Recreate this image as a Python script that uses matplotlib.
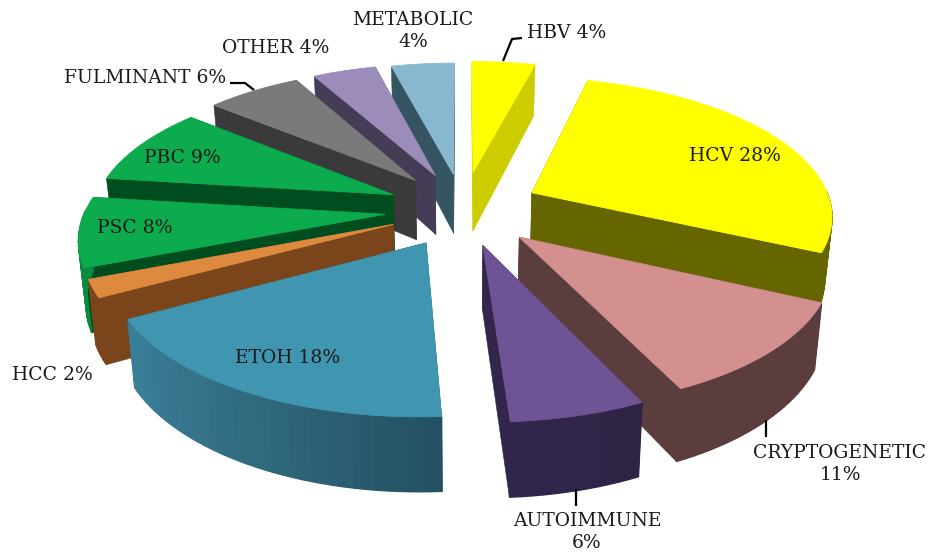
import numpy as np
import matplotlib
matplotlib.use("Agg")
import matplotlib.pyplot as plt
from matplotlib.patches import Polygon

# ---- data -------------------------------------------------------------
names = ["HBV", "HCV", "CRYPTOGENETIC", "AUTOIMMUNE", "ETOH", "HCC",
         "PSC", "PBC", "FULMINANT", "OTHER", "METABOLIC"]
values = [4, 28, 11, 6, 18, 2, 8, 9, 6, 4, 4]

# ---- style ------------------------------------------------------------
top_colors = ["#FFFF00", "#FFFF00", "#D48F8F", "#6E5494", "#4096B0", "#DE8A3E",
              "#0CAB4E", "#0CAB4E", "#7A7A7A", "#9C8CBA", "#88B8CF"]
wall_left = ["#CCCC00", "#666600", "#5C3D3D", "#33264D", "#3A7F98", "#7A451A",
             "#0A8C40", "#004D1F", "#3A3A3A", "#453D55", "#365562"]
wall_right = ["#CCCC00", "#666600", "#5C3D3D", "#2E2344", "#235060", "#7A451A",
              "#0A8C40", "#004D1F", "#3A3A3A", "#453D55", "#365562"]
side_colors = ["#CCCC00", "#666600", "#5C3D3D", "#33264D", "#235060", "#7A451A",
               "#004D1F", "#004D1F", "#3A3A3A", "#453D55", "#365562"]
explode = [75, 75, 76, 88, 82, 78, 75, 75, 75, 72, 70]
nudge = [(-1, 0), (0, 2), (-1, 7), (-5, 0), (2, 4), (0, 4),
         (-5, 5), (-4, 3), (-3, 1), (-4, 0), (-3, 0)]
label_pos = {"HBV": (567, 33), "HCV": (735, 156), "CRYPTOGENETIC": (840, 464),
             "AUTOIMMUNE": (587, 532), "ETOH": (288, 358), "HCC": (52, 375),
             "PSC": (135, 228), "PBC": (182, 158), "FULMINANT": (145, 78),
             "OTHER": (276, 48), "METABOLIC": (413, 31)}
two_line = {"METABOLIC", "CRYPTOGENETIC", "AUTOIMMUNE"}
leaders = [[(503, 61), (512, 39), (522, 38)],
           [(230, 83), (245, 83), (254, 90)],
           [(766, 420), (766, 437)],
           [(576, 489), (576, 506)]]

CX, CY, R, K, D, H, TAPER = 465, 205, 300, 0.455, 2000, 61, 0.02


def mix(c1, c2, t):
    a = np.array(matplotlib.colors.to_rgb(c1))
    b = np.array(matplotlib.colors.to_rgb(c2))
    return tuple(a + (b - a) * t)


fig = plt.figure(figsize=(9.3, 5.55), dpi=100)
ax = fig.add_axes([0, 0, 1, 1])
ax.set_xlim(0, 930)
ax.set_ylim(555, 0)
ax.axis("off")

edges = np.cumsum([0] + values) / sum(values) * 2 * np.pi
order = sorted((-np.cos((edges[i] + edges[i + 1]) / 2), i) for i in range(len(values)))

zorder = 1
for _, i in order:
    dx, dy = nudge[i]

    def project(X, Y, z=0.0):
        s = D / (D - Y)
        return CX + dx + X * s * (1 - TAPER * z), CY + dy + K * Y * s + H * s * z

    a0, a1 = edges[i], edges[i + 1]
    mid = (a0 + a1) / 2
    ox, oy = explode[i] * np.sin(mid), -explode[i] * np.cos(mid)
    aa = np.linspace(a0, a1, max(int((a1 - a0) / 0.03), 4) + 1)
    xs = ox + R * np.sin(aa)
    ys = oy - R * np.cos(aa)

    faces = []
    for k in (0, -1):
        quad = [project(ox, oy), project(xs[k], ys[k]),
                project(xs[k], ys[k], 1), project(ox, oy, 1)]
        faces.append(((oy + ys[k]) / 2, quad, side_colors[i], 0.4))
    x_lo, x_hi = xs.min(), xs.max()
    for j in range(len(aa) - 1):
        amid = (aa[j] + aa[j + 1]) / 2
        if -np.cos(amid) < -0.02:      # back of the rim faces away from the viewer
            continue
        quad = [project(xs[j], ys[j]), project(xs[j + 1], ys[j + 1]),
                project(xs[j + 1], ys[j + 1], 1), project(xs[j], ys[j], 1)]
        t = ((xs[j] + xs[j + 1]) / 2 - x_lo) / max(x_hi - x_lo, 1)
        faces.append(((ys[j] + ys[j + 1]) / 2 + R * 0.2, quad,
                      mix(wall_left[i], wall_right[i], t), 1.0))
    faces.sort(key=lambda f: f[0])
    for _, quad, col, lw in faces:
        ax.add_patch(Polygon(quad, closed=True, fc=col, ec=col, lw=lw, zorder=zorder,
                             joinstyle="bevel"))
        zorder += 1
    top = [project(ox, oy)] + [project(x, y) for x, y in zip(xs, ys)]
    ax.add_patch(Polygon(top, closed=True, fc=top_colors[i], ec=top_colors[i],
                         lw=0.6, zorder=zorder))
    zorder += 1

for pts in leaders:
    px, py = zip(*pts)
    ax.plot(px, py, color="black", lw=1.6, zorder=zorder, solid_capstyle="butt")

font = ["DejaVu Serif"]
for name, val in zip(names, values):
    sep = "\n" if name in two_line else " "
    x, y = label_pos[name]
    ax.text(x, y, f"{name}{sep}{val}%", ha="center", va="center", fontsize=13.5,
            family=font, color="#1a1a1a", linespacing=1.35, zorder=zorder + 1)

fig.savefig("out.png", dpi=100, facecolor="white")
